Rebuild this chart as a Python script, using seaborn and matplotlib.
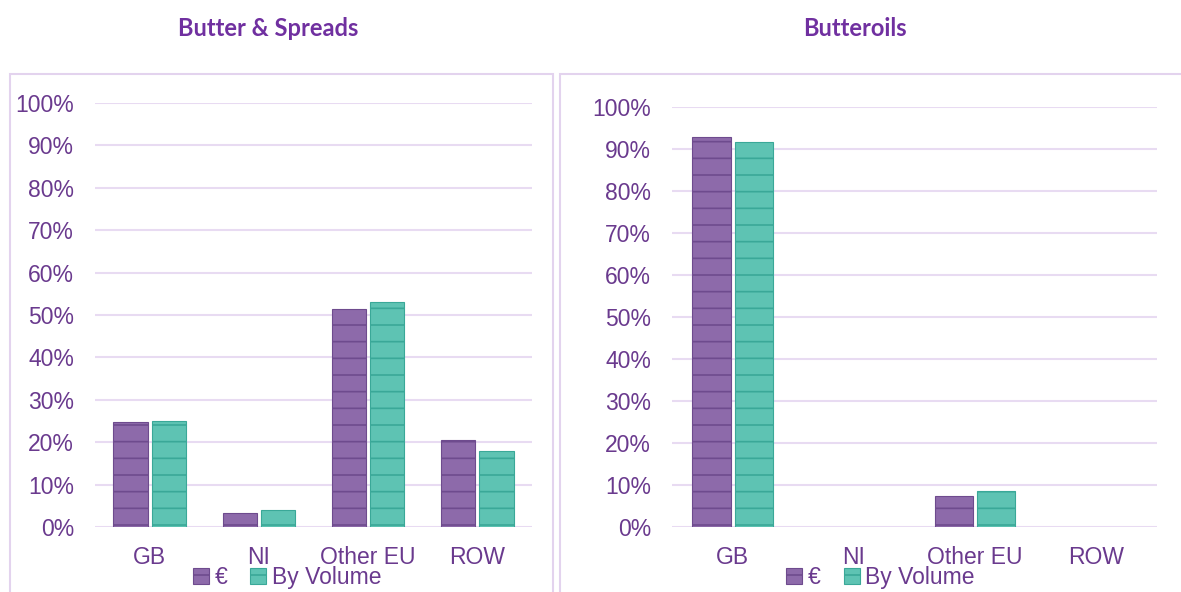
import pandas as pd
import numpy as np
import matplotlib
matplotlib.use('Agg')
import matplotlib.pyplot as plt
import seaborn as sns
from matplotlib.patches import Rectangle
from matplotlib.ticker import PercentFormatter, MultipleLocator

# Export share by destination (% of total)
categories = ['GB', 'NI', 'Other EU', 'ROW']
series_names = ['€', 'By Volume']
butter_eur = [24.8, 3.3, 51.4, 20.5]
butter_vol = [25.0, 4.0, 53.1, 17.9]
butteroil_eur = [92.9, 0.0, 7.4, 0.0]
butteroil_vol = [91.7, 0.0, 8.6, 0.0]
panel_titles = ['Butter & Spreads', 'Butteroils']

sns.set_style('white')
plt.rcParams['font.family'] = ['Liberation Sans', 'DejaVu Sans']
plt.rcParams['hatch.linewidth'] = 1.2

text_col = '#6A3A8E'
title_col = '#7030A0'
grid_col = '#E8DBF2'
frame_col = '#E3D3EE'
fills = {'€': '#8D6AAA', 'By Volume': '#5EC3B3'}
stripes = {'€': '#6E4B8E', 'By Volume': '#3AA898'}


def make_df(eur, vol):
    df = pd.DataFrame({'Destination': categories, '€': eur, 'By Volume': vol})
    return df.melt(id_vars='Destination', var_name='Measure', value_name='Share')


fig = plt.figure(figsize=(11.81, 5.92), dpi=100)

# panel frames
fig.patches.append(Rectangle((10 / 1181, -0.1), 543 / 1181, 1.1 - 74 / 592, transform=fig.transFigure,
                             fill=False, edgecolor=frame_col, linewidth=1.5))
fig.patches.append(Rectangle((560 / 1181, -0.1), 640 / 1181, 1.1 - 74 / 592, transform=fig.transFigure,
                             fill=False, edgecolor=frame_col, linewidth=1.5))

ax1 = fig.add_axes([95 / 1181, 1 - 527 / 592, 437 / 1181, 424 / 592])
ax2 = fig.add_axes([672 / 1181, 1 - 527 / 592, 485 / 1181, 420 / 592])

panels = [(ax1, make_df(butter_eur, butter_vol), panel_titles[0], 268, 0.44),
          (ax2, make_df(butteroil_eur, butteroil_vol), panel_titles[1], 855, 0.43)]

for ax, df, title, tx, lx in panels:
    sns.barplot(data=df, x='Destination', y='Share', hue='Measure', order=categories,
                hue_order=series_names, palette=fills, saturation=1, width=0.7, gap=0.1,
                legend=False, ax=ax, zorder=3)
    for cont, name in zip(ax.containers, series_names):
        for bar in cont.patches:
            bar.set_hatch('-')
            bar.set_edgecolor(stripes[name])
            bar.set_linewidth(0.8 if bar.get_height() > 0 else 0)
    ax.set_ylim(0, 100)
    ax.set_xlim(-0.5, 3.5)
    ax.yaxis.set_major_locator(MultipleLocator(10))
    ax.yaxis.set_major_formatter(PercentFormatter(xmax=100, decimals=0))
    ax.grid(axis='y', color=grid_col, linewidth=1.5, zorder=0)
    ax.set_axisbelow(True)
    sns.despine(ax=ax, left=True, bottom=True)
    ax.tick_params(axis='y', length=0, pad=15, labelsize=16.5, labelcolor=text_col)
    ax.tick_params(axis='x', length=0, pad=14, labelsize=16.5, labelcolor=text_col)
    ax.set_xlabel('')
    ax.set_ylabel('')
    ax.legend(ax.containers, series_names, loc='center', bbox_to_anchor=(lx, -0.12), ncol=2,
              frameon=False, handlelength=0.7, handleheight=0.7, handletextpad=0.25,
              columnspacing=1.0, fontsize=16.5, labelcolor=text_col, borderpad=0)
    fig.text(tx / 1181, 1 - 28 / 592, title, ha='center', va='center', fontsize=17,
             fontweight='bold', color=title_col, family=['Lato', 'DejaVu Sans'])

fig.savefig('out.png', dpi=100)
